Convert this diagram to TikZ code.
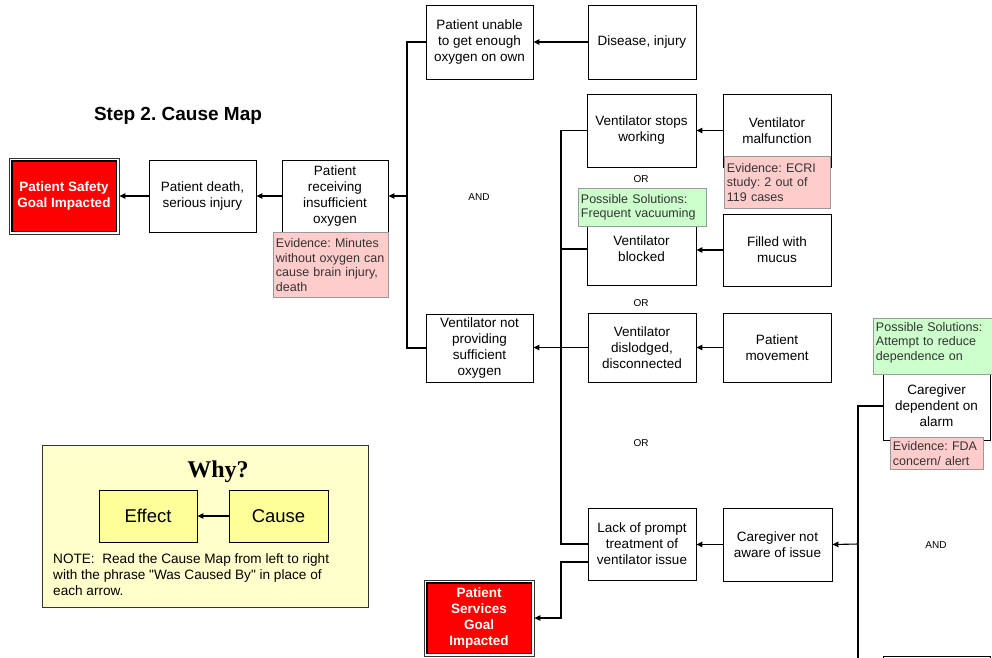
\documentclass[tikz,border=0pt]{standalone}
\usepackage{fontspec}
\setmainfont{Liberation Sans}[Ligatures=TeXOff]
\newfontfamily\whyfont{Liberation Serif}
\usetikzlibrary{arrows.meta,calc}
\definecolor{evpink}{HTML}{FFCCCC}
\definecolor{solgreen}{HTML}{CCFFCC}
\definecolor{whybg}{HTML}{FFFFCC}
\definecolor{whybox}{HTML}{FFFF99}
\definecolor{annline}{HTML}{999999}
\definecolor{anntext}{HTML}{333333}
\frenchspacing
\begin{document}
\frenchspacing
\begin{tikzpicture}[x=1pt,y=-1pt,
  box/.style={draw=black, line width=0.9pt, fill=white, align=center, inner sep=0pt,
    font=\fontsize{13.5}{16}\selectfont},
  goal/.style={draw=black!80, line width=0.8pt, fill=white,
    path picture={\filldraw[fill=red, draw=black, line width=1.4pt]
      ($(path picture bounding box.south west)+(2.8,-2.8)$) rectangle
      ($(path picture bounding box.north east)+(-2.8,2.8)$);},
    text=white, align=center, inner sep=0pt, font=\fontsize{13.5}{16}\selectfont\bfseries},
  ann/.style={draw=annline, line width=0.9pt, align=left, inner sep=2.5pt, anchor=north west,
    text=anntext, font=\fontsize{12.5}{14.5}\selectfont},
  evbox/.style={ann, fill=evpink},
  solbox/.style={ann, fill=solgreen},
  ln/.style={line width=1.1pt, black},
  arr/.style={ln, -{Triangle[length=6pt,width=5.5pt]}},
  gate/.style={font=\fontsize{10}{12}\selectfont, inner sep=0pt},
  yel/.style={draw=black, line width=0.8pt, fill=whybox, inner sep=0pt, font=\fontsize{18.5}{22}\selectfont}
]
\useasboundingbox (0,0) rectangle (992,657);
\clip (0,0) rectangle (992,657);
\fill[white] (0,0) rectangle (992,657);

% title
\node[font=\fontsize{19}{22}\selectfont\bfseries, inner sep=0pt] (title) at (178,116) {Step 2. Cause Map};

% main boxes
\node[goal, minimum width=110pt, minimum height=76pt] (safety) at (64,196) {Patient Safety\\Goal Impacted};
\node[box, minimum width=107pt, minimum height=72pt] (pdeath) at (202.5,196) {Patient death,\\serious injury};
\node[box, minimum width=106pt, minimum height=72pt] (recv) at (335,196) {Patient\\receiving\\insufficient\\oxygen};
\node[box, minimum width=107pt, minimum height=74pt] (unable) at (479.5,42) {Patient unable\\to get enough\\oxygen on own};
\node[box, minimum width=108pt, minimum height=74pt] (disease) at (642,42) {Disease, injury};
\node[box, minimum width=109pt, minimum height=73pt] (stops) at (641.5,130.5) {Ventilator stops\\working};
\node[box, minimum width=108pt, minimum height=73pt] (malf) at (777,130.5) {Ventilator\\malfunction};
\node[box, minimum width=109pt, minimum height=72pt] (blocked) at (641.5,249) {Ventilator\\blocked};
\node[box, minimum width=108pt, minimum height=72pt] (mucus) at (777,250) {Filled with\\mucus};
\node[box, minimum width=107pt, minimum height=68pt] (notprov) at (479.5,348) {Ventilator not\\providing\\sufficient\\oxygen};
\node[box, minimum width=108pt, minimum height=69pt] (dislodged) at (642,347.5) {Ventilator\\dislodged,\\disconnected};
\node[box, minimum width=108pt, minimum height=69pt] (movement) at (777,347.5) {Patient\\movement};
\node[box, minimum width=108pt, minimum height=72pt] (lack) at (642,544) {Lack of prompt\\treatment of\\ventilator issue};
\node[box, minimum width=109pt, minimum height=73pt] (aware) at (777.5,544.5) {Caregiver not\\aware of issue};
\node[goal, minimum width=110pt, minimum height=76pt] (services) at (479,618) {Patient\\Services\\Goal\\Impacted};
\node[box, minimum width=107pt, minimum height=68pt] (caredep) at (936.5,406) {Caregiver\\dependent on\\alarm};
\node[box, minimum width=107pt, minimum height=74pt] (nextbox) at (936.5,693) {};

% connectors
\draw[arr] (pdeath.west) -- (safety.east);
\draw[arr] (recv.west) -- (pdeath.east);
\coordinate (jA) at (407,196);
\draw[ln] (unable.west) -| (jA);
\draw[ln] (notprov.west) -| (jA);
\draw[arr] (jA) -- (recv.east);
\draw[arr] (disease.west) -- (unable.east);
\draw[arr] (malf.west) -- (stops.east);
\draw[arr] (mucus.west) -- (mucus.west -| blocked.east);
\draw[arr] (movement.west) -- (movement.west -| dislodged.east);
\coordinate (jB) at (561,348);
\draw[ln] (stops.west) -| (jB);
\draw[ln] (blocked.west) -| (jB);
\draw[ln] (lack.west) -| (jB);
\draw[arr] (dislodged.west) -- (dislodged.west -| notprov.east);
\coordinate (lackout) at ($(lack.west)+(0,18)$);
\coordinate (jC) at (561,618);
\draw[arr] (lackout) -| (jC) -- (services.east);
\draw[arr] (aware.west) -- (aware.west -| lack.east);
\coordinate (jD) at (858,544);
\draw[ln] (caredep.west) -| (jD);
\draw[ln] (nextbox.west) -| (jD);
\draw[arr] (jD) -- (aware.east);

% annotations
\node[evbox, minimum width=115pt, minimum height=65pt, text width=110pt] (evmin) at (273,232) {Evidence: Minutes\\without oxygen can\\cause brain injury,\\death};
\node[evbox, minimum width=106pt, minimum height=52pt, text width=101pt] (evecri) at (724,156) {Evidence: ECRI\\study: 2 out of\\119 cases};
\node[solbox, minimum width=128pt, minimum height=38pt, text width=123pt] (sol1) at (578,188) {Possible Solutions:\\Frequent vacuuming};
\node[solbox, minimum width=124pt, minimum height=56pt] (sol2) at (873,318) {};
\node[ann, draw=none, text width=119pt] (sol2t) at (873,319) {Possible Solutions:\\Attempt to reduce\\dependence on};
\node[evbox, minimum width=93pt, minimum height=32pt, text width=88pt] (evfda) at (890,437) {Evidence: FDA\\concern/ alert};

% gates
\node[gate] (or1) at (641,179) {OR};
\node[gate] (or2) at (641,303) {OR};
\node[gate] (or3) at (641,443) {OR};
\node[gate] (and1) at (479,197) {AND};
\node[gate] (and2) at (936,545) {AND};

% legend
\node[draw=black!80, line width=0.8pt, fill=whybg, minimum width=326pt, minimum height=162pt, inner sep=0pt] (legend) at (205,526) {};
\node[font=\whyfont\fontsize{24}{28}\selectfont\bfseries, inner sep=0pt] (why) at (218,472) {Why?};
\node[yel, minimum width=98pt, minimum height=52pt] (effect) at (148,516) {Effect};
\node[yel, minimum width=99pt, minimum height=52pt] (cause) at (278.5,516) {Cause};
\draw[arr] (cause.west) -- (effect.east);
\node[anchor=west, align=left, inner sep=0pt, font=\fontsize{13.6}{16}\selectfont] (note) at (53,575) {NOTE:\ \ Read the Cause Map from left to right\\with the phrase "Was Caused By" in place of\\each arrow.};
\end{tikzpicture}
\end{document}
